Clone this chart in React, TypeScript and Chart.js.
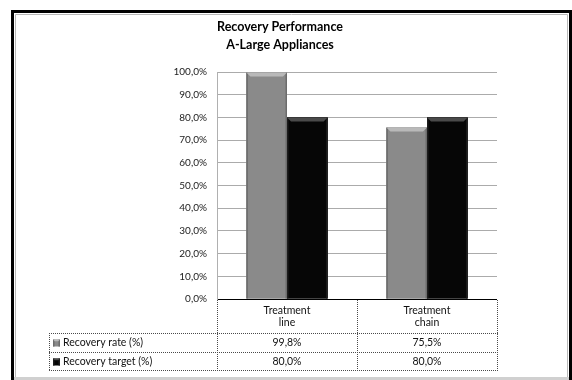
import React, { useEffect, useRef } from "react";
import { Chart, registerables } from "chart.js";

Chart.register(...registerables);

// Chart content
const titleLines = ["Recovery Performance", "A-Large Appliances"];
const categories = [["Treatment", "line"], ["Treatment", "chain"]];
const seriesNames = ["Recovery rate (%)", "Recovery target (%)"];
const recoveryRate = [99.8, 75.5];
const recoveryTarget = [80.0, 80.0];
const yMin = 0;
const yMax = 100;
const yStep = 10;

const FONT = "Lato, 'Liberation Sans', sans-serif";
const GRAY = "#8a8a8a";
const BLACK = "#060606";

const fmtPct = (v: number) => v.toFixed(1).replace(".", ",") + "%";

type BevelStyle = { fill: string; top: string; side: string };
const bevels: BevelStyle[] = [
  { fill: GRAY, top: "#b9b9b9", side: "#6c6c6c" },
  { fill: BLACK, top: "#4a4a4a", side: "#1c1c1c" },
];

// Bar with a bevelled top and darker sides
function drawBevelBar(ctx: CanvasRenderingContext2D, left: number, right: number, top: number, bottom: number, s: BevelStyle) {
  const w = right - left;
  const h = bottom - top;
  if (h <= 0) return;
  const b = Math.min(4, h / 2, w / 4);
  ctx.save();
  ctx.fillStyle = s.fill;
  ctx.fillRect(left, top, w, h);
  ctx.fillStyle = s.side;
  ctx.fillRect(left, top, 1.5, h);
  ctx.fillRect(right - 1.5, top, 1.5, h);
  ctx.fillStyle = s.top;
  ctx.beginPath();
  ctx.moveTo(left, top);
  ctx.lineTo(right, top);
  ctx.lineTo(right - b, top + b);
  ctx.lineTo(left + b, top + b);
  ctx.closePath();
  ctx.fill();
  ctx.restore();
}

const decorPlugin = {
  id: "sheetDecor",
  beforeDraw(chart: any) {
    const ctx: CanvasRenderingContext2D = chart.ctx;
    ctx.save();
    ctx.fillStyle = "#ffffff";
    ctx.fillRect(0, 0, chart.width, chart.height);
    // outer frame
    ctx.fillStyle = "#000";
    ctx.fillRect(11, 10, 561, 3);
    ctx.fillRect(11, 10, 3, 370);
    ctx.fillRect(569, 10, 3, 370);
    ctx.strokeStyle = "#b8b8b8";
    ctx.lineWidth = 1;
    ctx.beginPath();
    ctx.moveTo(15.5, 380);
    ctx.lineTo(15.5, 14.5);
    ctx.lineTo(567.5, 14.5);
    ctx.lineTo(567.5, 380);
    ctx.stroke();
    ctx.fillStyle = "#d0d0d0";
    ctx.fillRect(14, 377, 555, 3);
    ctx.restore();
  },
  afterDatasetsDraw(chart: any) {
    const ctx: CanvasRenderingContext2D = chart.ctx;
    chart.data.datasets.forEach((_: any, di: number) => {
      const meta = chart.getDatasetMeta(di);
      meta.data.forEach((el: any) => {
        const p = el.getProps(["x", "y", "base", "width"], true);
        drawBevelBar(ctx, p.x - p.width / 2, p.x + p.width / 2, p.y, p.base, bevels[di]);
      });
    });
  },
  afterDraw(chart: any) {
    const ctx: CanvasRenderingContext2D = chart.ctx;
    const area = chart.chartArea;
    const xs = chart.scales.x;
    ctx.save();

    // title
    ctx.fillStyle = "#000";
    ctx.font = `bold 12.5px ${FONT}`;
    ctx.textAlign = "center";
    ctx.textBaseline = "middle";
    ctx.fillText(titleLines[0], 280, 27);
    ctx.fillText(titleLines[1], 280, 45);

    // data table
    const tableLeft = 49;
    const headBottom = 333;
    const row1Bottom = 352;
    const row2Bottom = 370;
    const colEdges = [area.left];
    for (let i = 0; i < categories.length - 1; i++) {
      colEdges.push((xs.getPixelForValue(i) + xs.getPixelForValue(i + 1)) / 2);
    }
    colEdges.push(area.right);

    ctx.strokeStyle = "#4a4a4a";
    ctx.lineWidth = 1;
    ctx.setLineDash([1, 1]);
    ctx.beginPath();
    colEdges.forEach((x) => {
      const px = Math.round(x) + 0.5;
      ctx.moveTo(px, area.bottom + 1);
      ctx.lineTo(px, row2Bottom);
    });
    ctx.moveTo(tableLeft + 0.5, headBottom);
    ctx.lineTo(tableLeft + 0.5, row2Bottom);
    [headBottom, row1Bottom, row2Bottom].forEach((y) => {
      ctx.moveTo(tableLeft, y + 0.5);
      ctx.lineTo(area.right + 1, y + 0.5);
    });
    ctx.stroke();
    ctx.setLineDash([]);

    ctx.font = `10.5px ${FONT}`;
    ctx.fillStyle = "#111";
    ctx.textAlign = "center";
    categories.forEach((lines, i) => {
      const cx = xs.getPixelForValue(i);
      ctx.fillText(lines[0], cx, 311);
      ctx.fillText(lines[1], cx, 323);
      ctx.fillText(fmtPct(recoveryRate[i]), cx, 343);
      ctx.fillText(fmtPct(recoveryTarget[i]), cx, 362);
    });

    // series keys
    ctx.textAlign = "left";
    const rowsY = [343, 362];
    seriesNames.forEach((name, i) => {
      drawBevelBar(ctx, 53, 60, rowsY[i] - 3.5, rowsY[i] + 3.5, bevels[i]);
      ctx.fillStyle = "#111";
      ctx.fillText(name, 63, rowsY[i]);
    });
    ctx.restore();
  },
};

export default function App() {
  const ref = useRef<HTMLCanvasElement | null>(null);

  useEffect(() => {
    if (!ref.current) return;
    const chart = new Chart(ref.current, {
      type: "bar",
      data: {
        labels: categories.map((c) => c.join(" ")),
        datasets: [
          {
            label: seriesNames[0],
            data: recoveryRate,
            backgroundColor: GRAY,
            borderWidth: 0,
          },
          {
            label: seriesNames[1],
            data: recoveryTarget,
            backgroundColor: BLACK,
            borderWidth: 0,
          },
        ],
      },
      options: {
        responsive: false,
        devicePixelRatio: 1,
        animation: false,
        layout: { padding: { top: 72, right: 75, bottom: 81, left: 0 } },
        datasets: {
          bar: { categoryPercentage: 0.58, barPercentage: 1.0 },
        },
        plugins: {
          legend: { display: false },
          title: { display: false },
          tooltip: { enabled: false },
        },
        scales: {
          x: { display: false },
          y: {
            min: yMin,
            max: yMax,
            afterFit: (scale: any) => {
              scale.width = 217;
            },
            ticks: {
              stepSize: yStep,
              padding: 10,
              color: "#222222",
              font: { family: FONT, size: 10 },
              callback: (v: any) => fmtPct(Number(v)),
            },
            grid: {
              drawTicks: false,
              color: (c: any) => (c.tick && c.tick.value === 0 ? "#000000" : "#ababab"),
              lineWidth: 1,
            },
            border: { display: true, color: "#b0b0b0" },
          },
        },
      },
      plugins: [decorPlugin],
    });
    return () => chart.destroy();
  }, []);

  return (
    <div style={{ position: "fixed", left: 0, top: 0, width: 572, height: 380 }}>
      <canvas ref={ref} width={572} height={380} style={{ display: "block", width: 572, height: 380 }} />
    </div>
  );
}
